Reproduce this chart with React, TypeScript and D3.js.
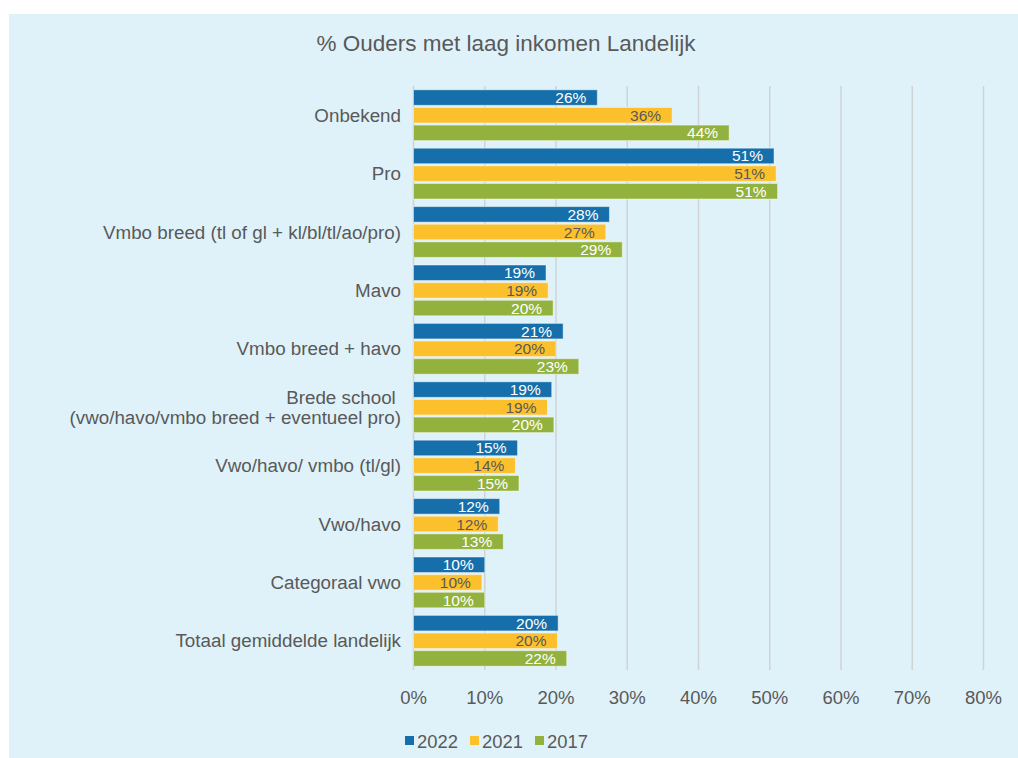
import { useEffect, useRef } from 'react';
import * as d3 from 'd3';

const categories = [
  'Onbekend',
  'Pro',
  'Vmbo breed (tl of gl + kl/bl/tl/ao/pro)',
  'Mavo',
  'Vmbo breed + havo',
  'Brede school \n(vwo/havo/vmbo breed + eventueel pro)',
  'Vwo/havo/ vmbo (tl/gl)',
  'Vwo/havo',
  'Categoraal vwo',
  'Totaal gemiddelde landelijk',
];
const series = ['2022', '2021', '2017'];
const values2022 = [25.8, 50.6, 27.5, 18.6, 21.0, 19.4, 14.6, 12.1, 10.0, 20.3];
const values2021 = [36.3, 50.9, 27.0, 18.9, 20.0, 18.8, 14.3, 11.9, 9.6, 20.2];
const values2017 = [44.3, 51.1, 29.3, 19.6, 23.2, 19.7, 14.8, 12.6, 10.0, 21.5];
const ticks = [0, 10, 20, 30, 40, 50, 60, 70, 80];

const COLORS = ['#166faa', '#fcc02c', '#93b23d'];
const LABEL_COLORS = ['#ffffff', '#595959', '#ffffff'];
const TEXT = '#595959';
const W = 1018;
const H = 758;
const FONT = '"Liberation Sans", Arial, sans-serif';

export default function App() {
  const svgRef = useRef<SVGSVGElement>(null);

  useEffect(() => {
    if (!svgRef.current) return;
    const svg = d3.select(svgRef.current);
    svg.selectAll('*').remove();

    const left = 413.5;
    const right = 983.5;
    const top = 86;
    const bottom = 670;

    svg.append('rect').attr('x', 9).attr('y', 14).attr('width', W - 9).attr('height', H - 14).attr('fill', '#dff2fa');

    svg
      .append('text')
      .attr('x', 506)
      .attr('y', 51)
      .attr('text-anchor', 'middle')
      .attr('fill', TEXT)
      .style('font-size', '22.5px')
      .text('% Ouders met laag inkomen Landelijk');

    const x = d3.scaleLinear().domain([0, 80]).range([left, right]);
    const y = d3.scaleBand<string>().domain(categories).range([top, bottom]).paddingInner(0.13).paddingOuter(0.065);
    const ySub = d3.scaleBand<string>().domain(series).range([0, y.bandwidth()]).paddingInner(0.12);

    // gridlines
    svg
      .append('g')
      .selectAll('line')
      .data(ticks)
      .join('line')
      .attr('x1', (d) => x(d))
      .attr('x2', (d) => x(d))
      .attr('y1', top)
      .attr('y2', bottom)
      .attr('stroke', '#d0d3d6')
      .attr('stroke-width', 1.5);

    svg
      .append('g')
      .selectAll('text')
      .data(ticks)
      .join('text')
      .attr('x', (d) => x(d))
      .attr('y', 704)
      .attr('text-anchor', 'middle')
      .attr('fill', TEXT)
      .style('font-size', '18.5px')
      .text((d) => `${d}%`);

    // category labels (Brede school wraps on two lines)
    const lh = 20;
    svg
      .append('g')
      .selectAll('text')
      .data(categories)
      .join('text')
      .attr('transform', (d) => `translate(401,${(y(d) ?? 0) + y.bandwidth() / 2 + 6.5})`)
      .attr('text-anchor', 'end')
      .attr('fill', TEXT)
      .style('font-size', '18.8px')
      .each(function (d) {
        const lines = d.split('\n');
        lines.forEach((ln, i) => {
          d3.select(this)
            .append('tspan')
            .attr('x', 0)
            .attr('y', (i - (lines.length - 1) / 2) * lh)
            .text(ln);
        });
      });

    const all = [values2022, values2021, values2017];
    series.forEach((s, si) => {
      const g = svg.append('g');
      const rows = categories.map((c, i) => ({ c, v: all[si][i] }));
      g.selectAll('rect')
        .data(rows)
        .join('rect')
        .attr('x', x(0))
        .attr('y', (d) => (y(d.c) ?? 0) + (ySub(s) ?? 0))
        .attr('width', (d) => x(d.v) - x(0))
        .attr('height', ySub.bandwidth())
        .attr('fill', COLORS[si])
        .attr('stroke', 'rgba(255,255,255,0.45)')
        .attr('stroke-width', 1);
      g.selectAll('text')
        .data(rows)
        .join('text')
        .attr('x', (d) => x(d.v) - 11)
        .attr('y', (d) => (y(d.c) ?? 0) + (ySub(s) ?? 0) + ySub.bandwidth() / 2 + 5.5)
        .attr('text-anchor', 'end')
        .attr('fill', LABEL_COLORS[si])
        .style('font-size', '15.5px')
        .text((d) => `${Math.round(d.v)}%`);
    });

    // legend
    const legend = svg.append('g').attr('transform', 'translate(405, 741)');
    let lx = 0;
    series.forEach((s, si) => {
      legend.append('rect').attr('x', lx).attr('y', -5).attr('width', 9).attr('height', 9).attr('fill', COLORS[si]);
      legend
        .append('text')
        .attr('x', lx + 12)
        .attr('y', 6.5)
        .attr('fill', TEXT)
        .style('font-size', '18.4px')
        .text(s);
      lx += 65;
    });
  }, []);

  return (
    <svg
      ref={svgRef}
      width={W}
      height={H}
      style={{ position: 'absolute', left: 0, top: 0, fontFamily: FONT }}
    />
  );
}
